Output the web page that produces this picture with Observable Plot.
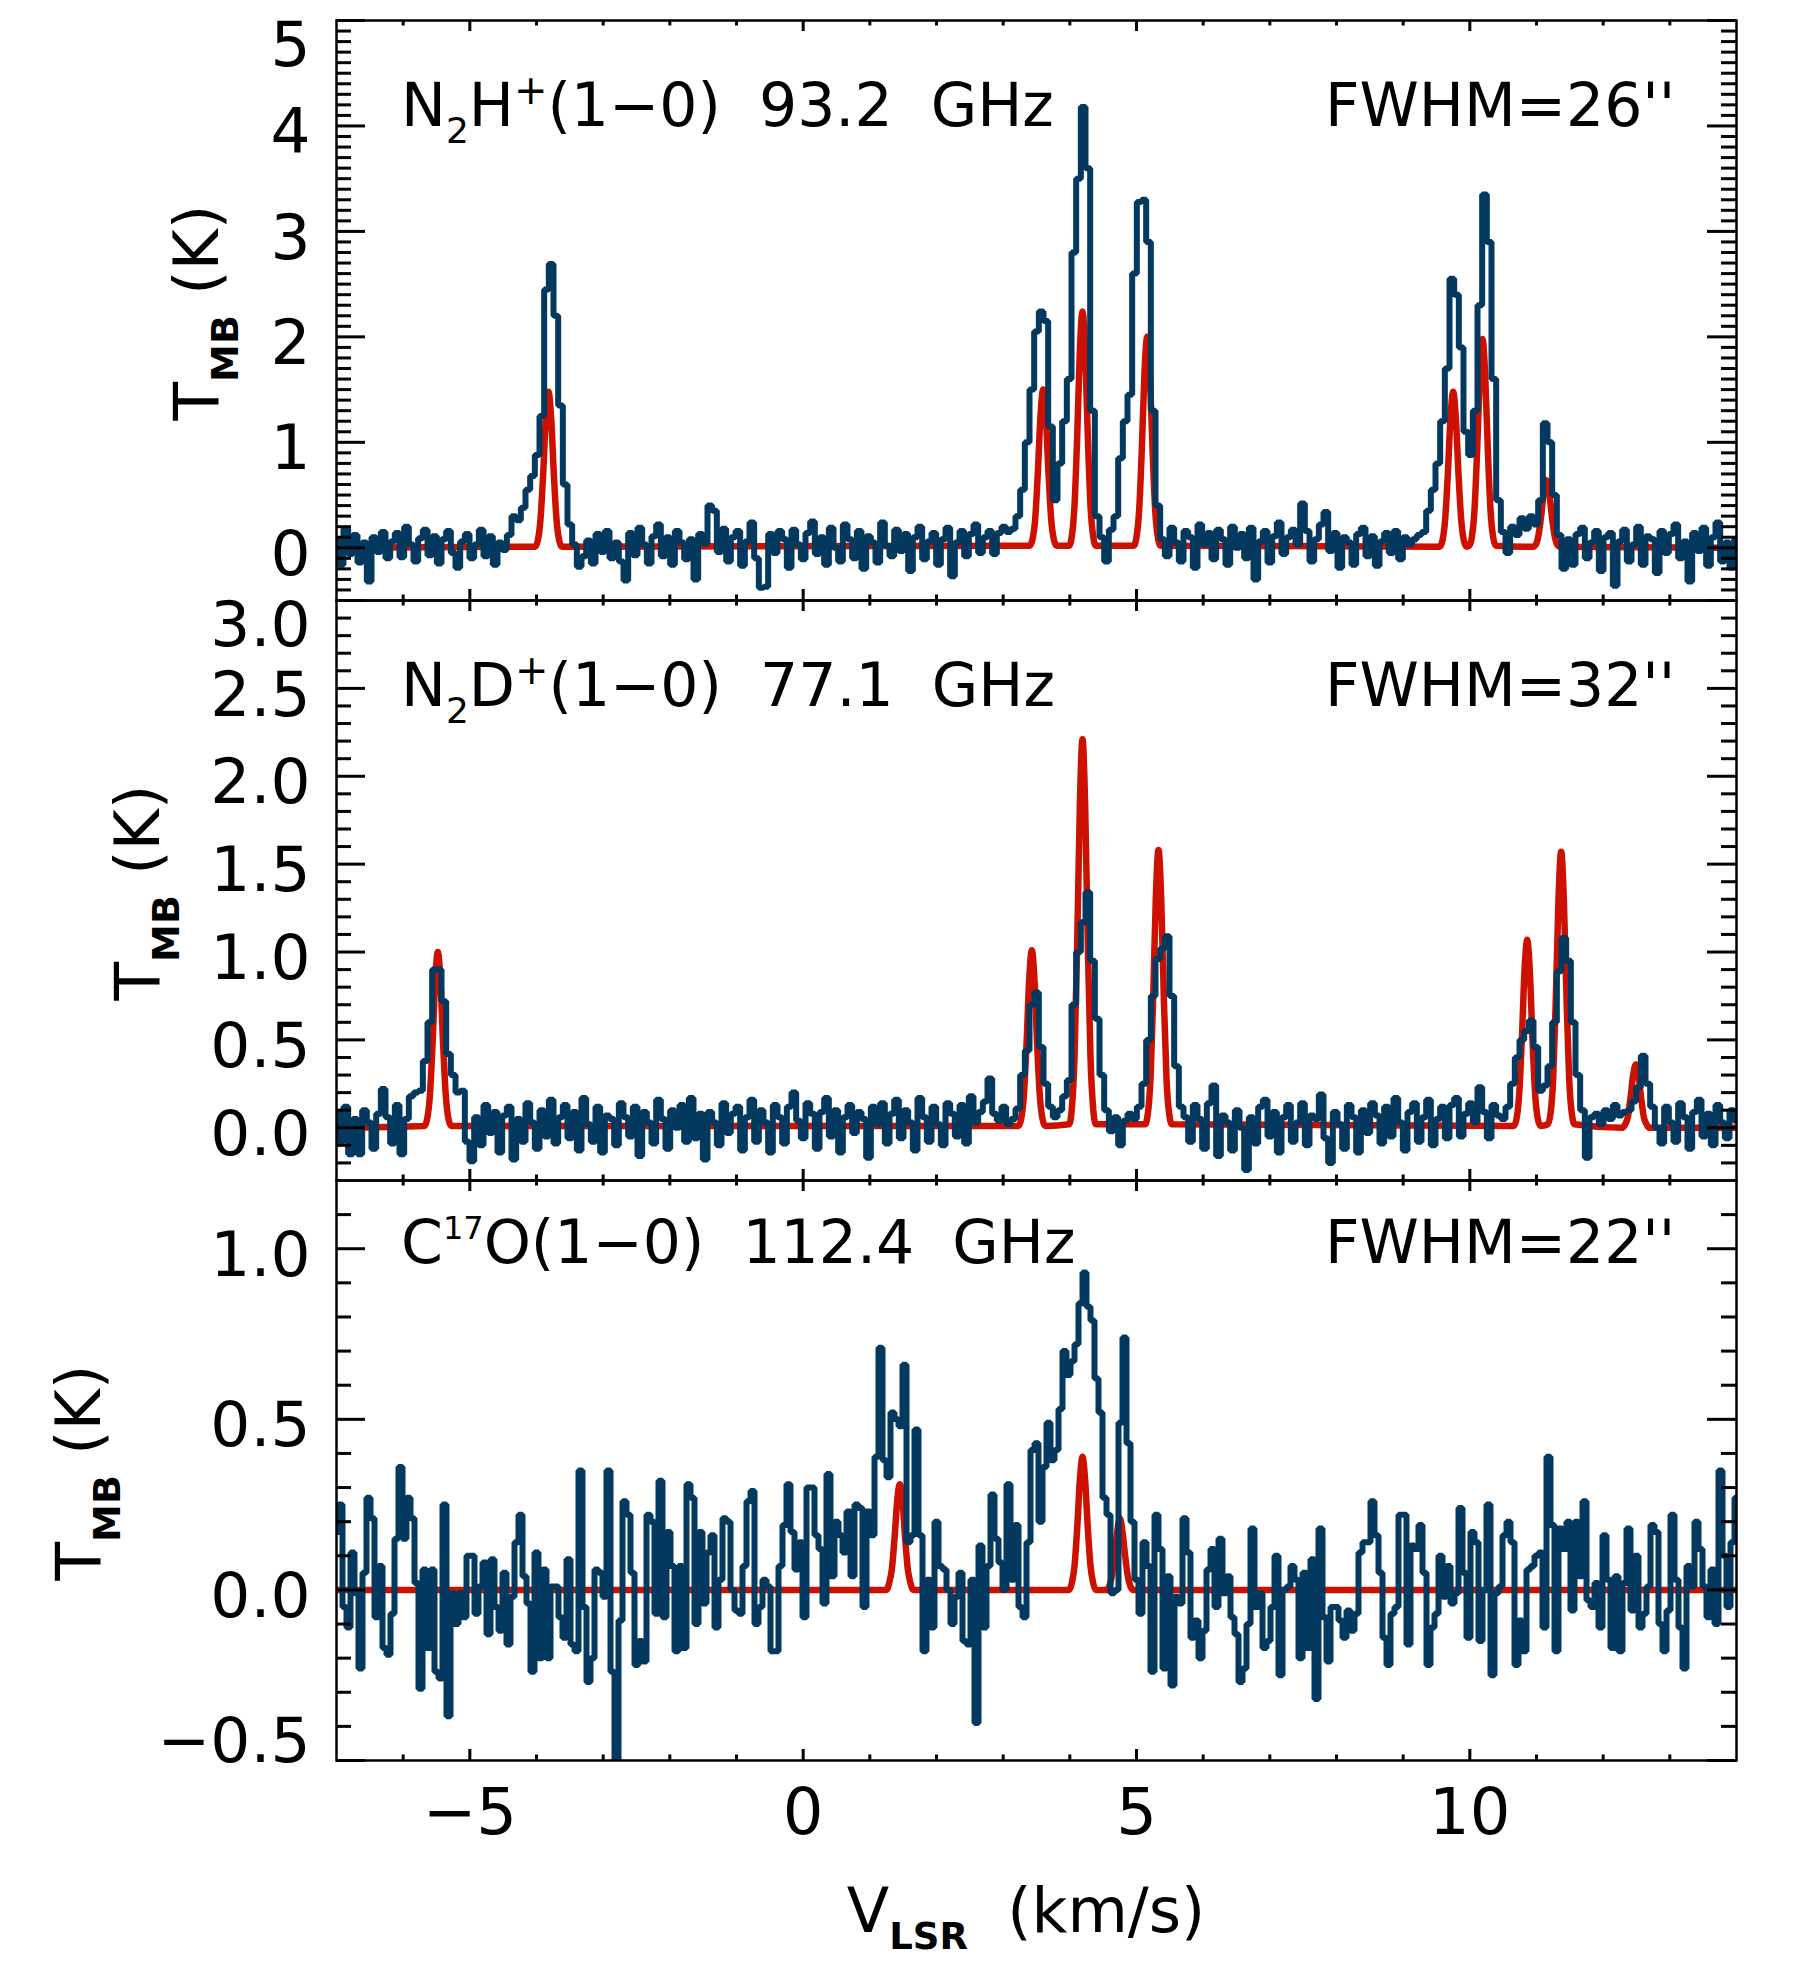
<!DOCTYPE html>
<html>
<head>
<meta charset="utf-8">
<script src="https://cdn.jsdelivr.net/npm/d3@7"></script>
<script src="https://cdn.jsdelivr.net/npm/@observablehq/plot@0.6"></script>
<style>
html, body { margin: 0; padding: 0; background: #fff; }
#fig { position: relative; width: 1806px; height: 1980px; background: #fff; overflow: hidden; }
#fig svg.panel { position: absolute; left: 0; overflow: visible; }
#labels { position: absolute; left: 0; top: 0; pointer-events: none; }
#labels text { white-space: pre; }
</style>
</head>
<body>
<div id="fig"></div>
<script>
// ---------------- data ----------------
const velocityDomain = [-7, 14];
const xMajorTicks = [-5, 0, 5, 10];

// N2H+ (1-0): observed spectrum, channels start at -7 km/s, width 0.07 km/s
const n2hStart = -7, n2hWidth = 0.07;
const n2hObs = [
 .08,-.16,.18,-.06,.12,-.14,.05,-.32,.1,-.04,
 .15,-.1,.06,.14,-.09,.2,.03,-.13,.09,.17,
 -.07,.11,-.15,.08,.16,-.05,-.19,.06,.13,-.1,
 .03,.17,-.08,.11,-.16,.05,-.02,.12,.3,.26,
 .38,.55,.68,.88,1.25,2.45,2.69,2.2,1.35,.6,
 .22,.03,-.18,-.08,.07,-.15,.13,-.04,.16,-.1,
 .05,-.13,-.31,.14,-.07,.19,.03,-.15,.11,.22,
 -.08,.1,-.16,.16,.05,-.11,.08,-.3,.13,.04,
 .4,.35,-.04,.18,-.13,.1,.16,-.17,.06,.24,
 -.1,-.38,-.37,.13,-.05,.16,.08,-.19,.17,.03,
 -.11,.14,.25,-.06,.1,-.16,.19,.0,-.13,.22,
 .08,-.1,.16,-.2,.11,.05,-.14,.24,.02,-.08,
 .17,-.03,.13,-.22,.1,.2,-.11,.06,.14,-.16,
 .08,.19,-.27,.05,.16,-.08,.13,.22,-.05,.1,
 .16,-.06,.14,.2,.15,.18,.3,.55,1.0,1.5,
 2.05,2.24,2.15,1.15,.45,.8,1.2,1.6,2.8,3.5,
 4.18,3.6,1.3,.3,.1,-.13,.17,.3,.85,1.2,
 1.45,2.6,3.28,3.3,2.9,1.3,.4,.08,-.08,.19,
 .05,-.13,.16,.1,-.19,.22,.03,.14,-.11,.17,
 .08,-.16,.2,.0,.13,-.1,.19,-.3,.06,.16,
 -.14,.11,.24,-.06,.1,.17,.03,.42,.16,-.13,
 .08,.22,.34,-.03,.14,-.19,.1,.05,-.16,.13,
 .19,-.08,.11,-.17,.06,.14,-.05,.16,-.11,.1,
 .03,.08,.12,.15,.35,.55,.8,1.2,1.7,2.55,
 2.4,1.9,1.1,.88,1.3,2.3,3.35,2.9,1.6,.45,
 .15,-.05,.2,.12,.28,.18,.3,.22,.45,1.18,
 1.0,.5,.12,-.2,.08,-.16,.13,.19,-.1,.05,
 .16,-.22,.1,.14,-.36,.06,.17,-.13,.03,.2,
 -.16,.11,.08,-.24,.16,-.05,.13,.22,-.1,.06,
 -.32,.14,-.03,.19,-.17,.1,.24,-.13,.05,-.19,
 .08
];
// N2H+ hyperfine model (red)
const n2hModelV = [-7,
 -4.02,-3.98,-3.94,-3.90,-3.86,-3.82,-3.78,-3.74,-3.70,-3.66,-3.62,
 3.40,3.44,3.48,3.52,3.56,3.60,3.64,3.68,3.72,3.76,3.80,
 3.99,4.03,4.07,4.11,4.15,4.19,4.23,4.27,4.31,4.35,4.39,
 4.96,5.00,5.04,5.08,5.12,5.16,5.20,5.24,5.28,5.32,5.36,
 9.55,9.59,9.63,9.67,9.71,9.75,9.79,9.83,9.87,9.91,9.95,
 9.99,10.03,10.07,10.11,10.15,10.19,10.23,10.27,10.31,10.35,10.39,
 10.95,10.99,11.03,11.07,11.11,11.15,11.19,11.23,11.27,11.31,11.35,
 14];
const n2hModelT = [0,
 .01,.07,.27,.70,1.23,1.48,1.23,.70,.27,.07,.01,
 .02,.08,.27,.71,1.25,1.50,1.25,.71,.27,.08,.02,
 .02,.11,.40,1.05,1.86,2.24,1.86,1.05,.40,.11,.02,
 .02,.10,.36,.94,1.66,2.00,1.66,.94,.36,.10,.02,
 .01,.07,.27,.70,1.23,1.48,1.23,.70,.27,.07,.01,
 .02,.10,.36,.93,1.64,1.98,1.64,.93,.36,.10,.02,
 .01,.03,.12,.30,.53,.64,.53,.30,.12,.03,.01,
 0];

// N2D+ (1-0)
const n2dStart = -7, n2dWidth = 0.07;
const n2dObs = [
 .09,-.08,.12,-.15,.05,-.15,.1,.03,-.12,.08,
 .22,.06,-.09,.13,-.15,.05,.18,.2,.21,.38,
 .6,.9,.9,.72,.42,.3,.2,.21,-.08,-.19,
 .06,-.1,.13,-.03,.09,-.14,.07,.12,-.18,.05,
 -.08,.14,.03,-.12,.1,-.05,.16,-.09,.06,.13,
 -.06,.09,-.13,.17,.02,-.08,.12,-.14,.07,.05,
 -.1,.14,.06,-.05,.12,-.16,.09,.03,-.09,.16,
 .05,-.12,.1,.0,.13,-.08,.17,-.06,.08,-.18,
 .09,.03,-.1,.14,-.03,.08,.12,-.13,.06,.16,
 -.08,.1,.03,-.14,.13,.06,-.09,.12,.2,.04,
 -.06,.14,.08,-.12,.09,.17,-.05,.1,-.14,.06,
 .13,-.03,.09,.05,-.17,.12,.02,.14,-.09,.08,
 .16,-.06,.1,.03,-.13,.17,.06,-.08,.12,.02,
 -.1,.14,.08,-.05,.13,-.09,.18,.03,.09,.15,
 .28,.08,.04,.12,.02,.05,.11,.3,.44,.7,
 .77,.46,.25,.12,.06,.1,.18,.27,.7,1.0,
 1.17,1.34,.95,.62,.3,.1,-.02,.06,-.1,.04,
 .08,.05,.12,.25,.5,.75,.96,1.02,1.09,.75,
 .35,.12,.06,-.08,.13,.05,-.12,.14,.24,-.16,
 .07,.03,-.13,.1,.0,-.24,.06,-.09,.12,.16,
 -.05,.09,-.14,.06,.13,-.08,.03,.14,-.1,.07,
 .05,.19,-.06,-.2,.09,.02,-.12,.13,.06,-.14,
 .1,-.03,.14,.07,-.09,.12,-.05,.17,.03,-.13,
 .09,.14,-.08,.06,.16,-.1,.05,.12,-.06,.13,
 .17,-.05,.08,.14,.03,.23,.09,-.06,.13,.07,
 .05,.12,.25,.4,.5,.55,.61,.46,.21,.24,
 .35,.6,.89,1.08,.95,.6,.3,.1,-.17,.06,
 .08,.02,.1,.05,.13,.07,.09,.1,.15,.23,
 .41,.25,.12,.0,-.09,.12,.03,-.08,.14,.06,
 -.12,.09,.16,-.05,.08,-.1,.13,.03,-.06,.1,
 .04
];
const n2dModelV = [-7,
 -5.68,-5.64,-5.60,-5.56,-5.52,-5.48,-5.44,-5.40,-5.36,-5.32,-5.28,
 3.23,3.27,3.31,3.35,3.39,3.43,3.47,3.51,3.55,3.59,3.63,
 3.99,4.03,4.07,4.11,4.15,4.19,4.23,4.27,4.31,4.35,4.39,
 5.13,5.17,5.21,5.25,5.29,5.33,5.37,5.41,5.45,5.49,5.53,
 10.66,10.70,10.74,10.78,10.82,10.86,10.90,10.94,10.98,11.02,11.06,
 11.17,11.21,11.25,11.29,11.33,11.37,11.41,11.45,11.49,11.53,11.57,
 12.29,12.33,12.37,12.41,12.45,12.49,12.53,12.57,12.61,12.65,12.69,
 14];
const n2dModelT = [0,
 .01,.05,.18,.47,.83,1.00,.83,.47,.18,.05,.01,
 .01,.05,.18,.47,.84,1.01,.84,.47,.18,.05,.01,
 .02,.11,.40,1.04,1.83,2.21,1.83,1.04,.40,.11,.02,
 .02,.08,.28,.74,1.31,1.58,1.31,.74,.28,.08,.02,
 .01,.05,.19,.50,.89,1.07,.89,.50,.19,.05,.01,
 .02,.08,.28,.74,1.30,1.57,1.30,.74,.28,.08,.02,
 0,.02,.06,.17,.30,.36,.30,.17,.06,.02,0,
 0];

// C17O (1-0)
const c17oStart = -7, c17oWidth = 0.06;
const c17oObs = [
 .17,.25,-.05,-.11,.11,-.01,-.23,.05,.27,.21,
 -.08,.07,-.17,-.19,-.07,.15,.36,.15,.27,.21,
 .02,-.29,.06,-.17,.06,-.24,-.26,.25,-.37,-.01,
 -.10,-.01,-.08,.10,.10,-.07,.01,.08,-.13,.09,
 -.05,-.12,.05,-.16,-.02,.14,.22,.04,-.04,-.24,
 .11,-.20,.06,-.20,.01,.01,-.08,-.14,.09,-.16,
 -.18,.35,-.05,-.27,-.20,.06,.05,-.02,.35,-.24,
 -.55,-.09,.26,.22,.05,-.22,-.15,-.21,.22,.20,
 -.07,.32,-.08,.17,.07,-.18,.07,-.17,.31,.27,
 -.10,.17,-.04,.11,.16,-.11,.03,.21,.20,.0,
 -.06,-.07,.07,.26,.29,-.10,-.05,.03,.01,-.18,
 -.18,.07,.19,.31,.17,.06,.14,-.08,.30,.30,
 .16,.12,-.04,.34,.04,.20,.16,.11,.23,.04,
 .25,.24,-.05,.23,.16,.39,.71,.38,.33,.52,
 .50,.48,.66,.14,.16,.47,.16,-.18,.03,-.11,
 .20,.07,.06,.0,-.10,-.02,.05,-.15,-.16,.03,
 -.39,.13,-.11,.07,.28,.15,.08,.0,.31,.03,
 .19,-.05,-.08,.14,.41,.43,
 .20,.36,.49,.38,.41,.53,.70,.63,.67,.72,
 .84,.93,.83,.79,.62,.52,.27,.22,-.01,.0,
 .49,.74,.43,.20,.03,-.07,.14,.07,-.24,.22,
 .12,-.23,.04,-.28,-.02,-.04,.21,.11,-.14,-.09,
 -.20,-.12,.06,.12,-.05,.15,-.01,.04,-.08,-.13,
 -.27,-.23,-.10,.18,-.05,-.01,-.17,-.15,-.05,.10,
 -.25,.0,.01,.07,.03,-.20,.05,-.17,.09,-.32,
 .18,-.08,-.21,-.05,-.05,-.09,-.14,-.06,-.12,-.07,
 .11,.14,.14,.26,.16,.05,-.14,-.22,-.07,-.05,
 .22,.22,-.16,.13,.12,.19,.05,-.22,-.11,-.07,
 .10,-.02,.07,-.04,-.01,.24,.05,-.14,.17,.14,
 -.15,.0,.25,-.25,-.01,.01,.16,.20,.14,-.22,
 -.09,-.18,.06,.07,.10,.11,-.11,.39,.19,-.18,
 .18,.12,.20,-.06,.20,.04,.26,-.03,-.05,.02,
 -.11,.16,.03,-.17,.04,-.18,.02,.18,-.06,.10,
 -.11,-.07,.01,.19,.17,-.10,-.18,-.06,.22,.03,
 -.11,-.23,.07,.01,.20,.12,.01,-.08,.06,-.10,
 .35,.10,-.05,.14,.27
];
const c17oModelV = [-7,
 1.25,1.29,1.33,1.37,1.41,1.45,1.49,1.53,1.57,1.61,1.65,
 3.99,4.03,4.07,4.11,4.15,4.19,4.23,4.27,4.31,4.35,4.39,
 4.55,4.59,4.63,4.67,4.71,4.75,4.79,4.83,4.87,4.91,4.95,
 14];
const c17oModelT = [0,
 0,.02,.06,.15,.26,.31,.26,.15,.06,.02,0,
 0,.02,.07,.18,.32,.39,.32,.18,.07,.02,0,
 0,.01,.04,.10,.17,.21,.17,.10,.04,.01,0,
 0];

// y axes
const n2hDomain = [-0.5, 5], n2hTicks = [0, 1, 2, 3, 4, 5];
const n2dDomain = [-0.3, 3.0], n2dTicks = [0, 0.5, 1.0, 1.5, 2.0, 2.5, 3.0];
const c17oDomain = [-0.5, 1.2], c17oTicks = [-0.5, 0, 0.5, 1.0];

// panel texts
const lineNames = [
  [["N"], ["2", "sub"], ["H"], ["+", "sup"], ["(1\u22120)  93.2  GHz"]],
  [["N"], ["2", "sub"], ["D"], ["+", "sup"], ["(1\u22120)  77.1  GHz"]],
  [["C"], ["17", "sup17"], ["O(1\u22120)  112.4  GHz"]]
];
const beamLabels = ["FWHM=26''", "FWHM=32''", "FWHM=22''"];

// ---------------- drawing ----------------
const FONT = "DejaVu Sans, Verdana, sans-serif";
const BLUE = "#03385f", RED = "#cc1100";
const PW = 1806, ML = 336, MR = 70, PH = 580;
const IW = PW - ML - MR;
const panelTops = [19.5, 599.5, 1179.5];

const xMinorTicks = d3.range(-6, 14).filter(d => d % 5 !== 0);
const fmt1 = d3.format("d"), fmtF = d3.format(".1f");

function makePanel(cfg) {
  const obsData = cfg.obs.map((t, i) => ({v: cfg.start + i * cfg.width, t}));
  const modelData = cfg.modelV.map((v, i) => ({v, t: cfg.modelT[i]}));
  const tk = {stroke: "black", strokeWidth: 3};
  const [lo, hi] = cfg.yDomain;
  const labelOpts = {y: d => d, frameAnchor: "left", text: cfg.fmt, textAnchor: "end",
      dx: -26, fontSize: 63, fontFamily: FONT, fill: "black"};
  const marks = [
    Plot.line(modelData, {x: "v", y: "t", stroke: RED, strokeWidth: 6.5, curve: "monotone-x", clip: true}),
    Plot.line(obsData, {x: "v", y: "t", stroke: BLUE, strokeWidth: 6, curve: "step", clip: true, strokeLinejoin: "miter", strokeLinecap: "butt"}),
    Plot.tickY(cfg.yMajor, {...tk, insetRight: IW - 29}),
    Plot.tickY(cfg.yMajor, {...tk, insetLeft: IW - 29}),
    Plot.tickY(cfg.yMinor, {...tk, insetRight: IW - 15}),
    Plot.tickY(cfg.yMinor, {...tk, insetLeft: IW - 15}),
    Plot.tickX(xMajorTicks, {...tk, insetTop: PH - 11}),
    Plot.tickX(xMajorTicks, {...tk, insetBottom: PH - 11}),
    Plot.tickX(xMinorTicks, {...tk, insetTop: PH - 5.5}),
    Plot.tickX(xMinorTicks, {...tk, insetBottom: PH - 5.5}),
    Plot.frame({stroke: "black", strokeWidth: 2.5}),
    Plot.text(cfg.yMajor.filter(d => d !== lo && d !== hi), {...labelOpts, dy: 7}),
    Plot.text(cfg.yMajor.filter(d => d === hi), {...labelOpts, dy: 25}),
    Plot.text(cfg.yMajor.filter(d => d === lo), {...labelOpts, dy: -19})
  ];
  if (cfg.showX) {
    marks.push(Plot.text(xMajorTicks, {x: d => d, frameAnchor: "bottom", text: d => fmt1(d),
      dy: 73, fontSize: 64, fontFamily: FONT, fill: "black"}));
  }
  const svg = Plot.plot({
    width: PW, height: PH, marginLeft: ML, marginRight: MR, marginTop: 0, marginBottom: 0,
    x: {domain: velocityDomain, axis: null},
    y: {domain: cfg.yDomain, axis: null},
    style: {background: "transparent", overflow: "visible", fontFamily: FONT},
    marks
  });
  svg.classList.add("panel");
  svg.style.top = cfg.top + "px";
  document.getElementById("fig").appendChild(svg);
}

makePanel({obs: n2hObs, start: n2hStart, width: n2hWidth, modelV: n2hModelV, modelT: n2hModelT,
  yDomain: n2hDomain, yMajor: n2hTicks,
  yMinor: d3.range(-4, 50).map(d => d / 10).filter(d => Math.round(d * 10) % 10 !== 0),
  fmt: d => fmt1(d), top: panelTops[0]});
makePanel({obs: n2dObs, start: n2dStart, width: n2dWidth, modelV: n2dModelV, modelT: n2dModelT,
  yDomain: n2dDomain, yMajor: n2dTicks,
  yMinor: d3.range(-2, 30).map(d => d / 10).filter(d => Math.round(d * 10) % 5 !== 0),
  fmt: d => fmtF(d), top: panelTops[1]});
makePanel({obs: c17oObs, start: c17oStart, width: c17oWidth, modelV: c17oModelV, modelT: c17oModelT,
  yDomain: c17oDomain, yMajor: c17oTicks,
  yMinor: d3.range(-4, 12).map(d => d / 10).filter(d => Math.round(d * 10) % 5 !== 0),
  fmt: d => fmtF(d), top: panelTops[2], showX: true});

// ---------------- text overlay ----------------
const ov = d3.select("#fig").append("svg").attr("id", "labels")
  .attr("width", 1806).attr("height", 1980).attr("font-family", FONT).attr("fill", "black");

const shifts = {sub: [36, 17], sup: [40, -22], sup17: [32, -24]};
const titleBaselines = [126, 706, 1263];
lineNames.forEach((parts, k) => {
  const t = ov.append("text").attr("x", 401).attr("y", titleBaselines[k]).attr("font-size", 60);
  let cur = 0;
  parts.forEach(([s, kind]) => {
    const sp = t.append("tspan").text(s);
    const target = kind ? shifts[kind][1] : 0;
    if (kind) sp.attr("font-size", shifts[kind][0]);
    if (target !== cur) sp.attr("dy", target - cur);
    cur = target;
  });
  ov.append("text").attr("x", 1325).attr("y", titleBaselines[k]).attr("font-size", 60).text(beamLabels[k]);
});

// y-axis labels
const yLabelX = [218, 159, 100];
panelTops.forEach((top, k) => {
  const t = ov.append("text").attr("font-size", 63).attr("text-anchor", "middle")
    .attr("transform", `translate(${yLabelX[k]},${top + 293}) rotate(-90)`);
  t.append("tspan").text("T");
  t.append("tspan").text("MB").attr("font-size", 38).attr("font-weight", "bold").attr("dy", 20);
  t.append("tspan").text(" (K)").attr("dy", -20);
});

// x-axis label
const xl = ov.append("text").attr("x", 1026).attr("y", 1932).attr("font-size", 62).attr("text-anchor", "middle");
xl.append("tspan").text("V");
xl.append("tspan").text("LSR").attr("font-size", 37).attr("font-weight", "bold").attr("dy", 17);
xl.append("tspan").text("  (km/s)").attr("dy", -17);
</script>
</body>
</html>
